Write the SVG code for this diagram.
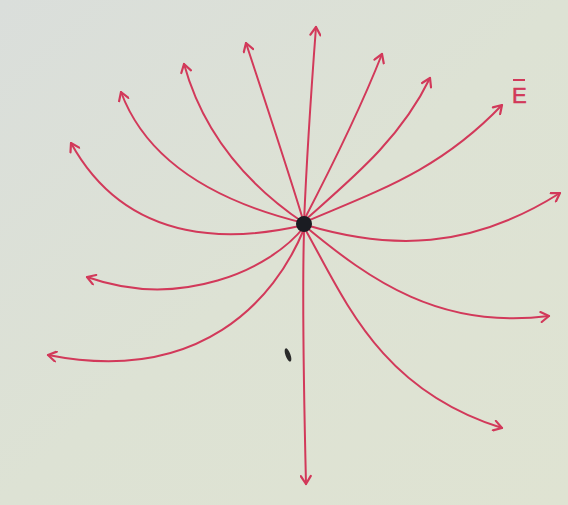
<svg xmlns="http://www.w3.org/2000/svg" width="568" height="505" viewBox="0 0 568 505">
<defs>
<linearGradient id="paper" x1="0" y1="0" x2="1" y2="1">
<stop offset="0" stop-color="#dadedb"/>
<stop offset="0.5" stop-color="#dde2d4"/>
<stop offset="1" stop-color="#dfe3d2"/>
</linearGradient>
<marker id="ah" viewBox="-10 -6 12 12" markerWidth="12" markerHeight="12" refX="0" refY="0" orient="auto" markerUnits="userSpaceOnUse">
<path d="M-8,-5 L0,0 L-8,5" fill="none" stroke="#d2395a" stroke-width="2.2" stroke-linecap="round" stroke-linejoin="round"/>
</marker>
</defs>
<style>
.fl{fill:none;stroke:#d2395a;stroke-width:2;stroke-linecap:round;marker-end:url(#ah)}
.lbl{font-family:"Liberation Sans",Arial,sans-serif;font-size:22px;fill:#d2395a;stroke:#d2395a;stroke-width:0.6}
</style>
<rect width="568" height="505" fill="url(#paper)"/>
<g id="connectors">
<path class="fl" d="M304,223 C307,150 312,80 316,27"/>
<path class="fl" d="M304,223 C288,170 268,110 246,43"/>
<path class="fl" d="M304,223 C255,190 205,140 184,64"/>
<path class="fl" d="M304,223 C230,205 150,170 121,92"/>
<path class="fl" d="M304,225 C240,240 130,250 71,143"/>
<path class="fl" d="M304,227 C270,270 180,310 87,277"/>
<path class="fl" d="M304,229 C275,300 200,385 48,355"/>
<path class="fl" d="M304,231 C302,300 304,400 306,484"/>
<path class="fl" d="M305,229 C345,300 380,390 502,428"/>
<path class="fl" d="M306,227 C370,280 440,330 549,316"/>
<path class="fl" d="M306,225 C390,250 470,250 560,193"/>
<path class="fl" d="M305,222 C380,190 440,170 502,105"/>
<path class="fl" d="M304,221 C350,180 400,140 430,78"/>
<path class="fl" d="M304,220 C330,170 360,110 382,54"/>
</g>
<g id="charge">
<circle cx="304" cy="224" r="8" fill="#1a1c22"/>
</g>
<g id="label">
<text class="lbl" x="512" y="103">E</text>
<line x1="513" y1="80" x2="525" y2="80" stroke="#d2395a" stroke-width="2"/>
</g>
<ellipse cx="288" cy="355" rx="2.5" ry="7" transform="rotate(-20 288 355)" fill="#2a2a2a"/>
</svg>
